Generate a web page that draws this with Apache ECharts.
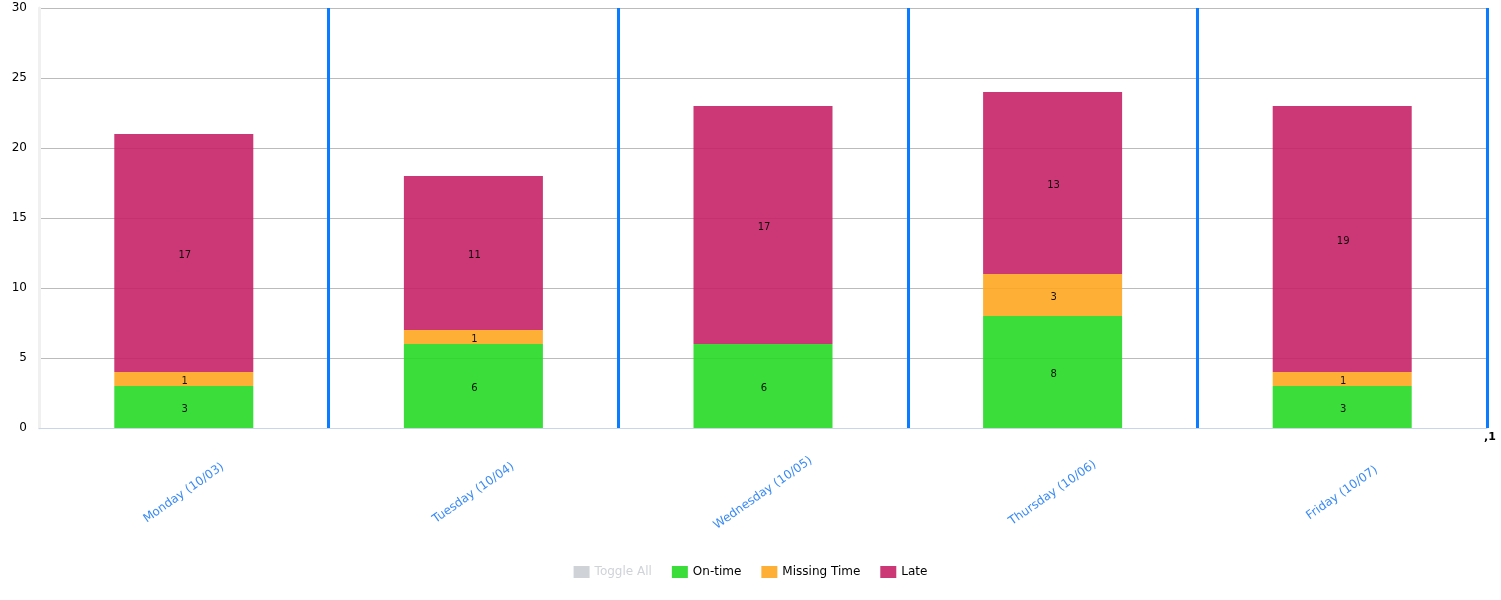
<!DOCTYPE html>
<html>
<head>
<meta charset="utf-8">
<script src="https://cdn.jsdelivr.net/npm/echarts@6/dist/echarts.min.js"></script>
<style>
  html, body { margin: 0; padding: 0; background: #fff; }
  #chart { width: 1501px; height: 600px; }
</style>
</head>
<body>
<div id="chart"></div>
<script>
var days = ['Monday (10/03)', 'Tuesday (10/04)', 'Wednesday (10/05)', 'Thursday (10/06)', 'Friday (10/07)'];
var onTime = [3, 6, 6, 8, 3];
var missingTime = [1, 1, 0, 3, 1];
var late = [17, 11, 17, 13, 19];
var yTicks = { min: 0, max: 30, step: 5 };

function stackSeries(name, data, color) {
    return {
        name: name,
        type: 'bar',
        stack: 'total',
        barWidth: '48%',
        data: data,
        itemStyle: { color: color, opacity: 0.9 },
        label: {
            show: true,
            position: 'inside',
            offset: [1, 2],
            color: '#000',
            fontSize: 10,
            fontFamily: 'DejaVu Sans',
            formatter: function (p) { return p.value ? p.value : ''; }
        }
    };
}

var chart = echarts.init(document.getElementById('chart'));
chart.setOption({
    animation: false,
    textStyle: { fontFamily: 'DejaVu Sans' },
    grid: { left: 39, right: 14, top: 8, bottom: 172 },
    legend: {
        bottom: 17,
        left: 'center',
        itemWidth: 16,
        itemHeight: 12,
        itemGap: 20,
        icon: 'rect',
        textStyle: { color: '#000', fontSize: 12 },
        data: ['Toggle All', 'On-time', 'Missing Time', 'Late'],
        selected: { 'Toggle All': false }
    },
    xAxis: {
        type: 'category',
        data: days,
        axisLine: { lineStyle: { color: '#c8d6e8' } },
        axisTick: { show: false },
        axisLabel: {
            rotate: 35,
            color: '#3b8bf5',
            fontSize: 12,
            align: 'center',
            verticalAlign: 'middle',
            margin: 65
        },
        splitLine: {
            show: true,
            showMinLine: false,
            lineStyle: { color: '#0a7cff', width: 3 }
        }
    },
    yAxis: {
        type: 'value',
        min: yTicks.min,
        max: yTicks.max,
        interval: yTicks.step,
        axisLine: { show: true, lineStyle: { color: '#f0f0f0', width: 3 } },
        axisTick: { show: false },
        axisLabel: { color: '#000', fontSize: 12, margin: 12 },
        splitLine: { lineStyle: { color: '#bbbbbb' } }
    },
    graphic: [{
        type: 'text',
        left: 1484,
        top: 432,
        style: { text: ',1', fill: '#000', font: 'bold 11px DejaVu Sans' }
    }],
    series: [
        { name: 'Toggle All', type: 'bar', stack: 'total', data: [], itemStyle: { color: '#ccc' } },
        stackSeries('On-time', onTime, 'rgb(37,217,37)'),
        stackSeries('Missing Time', missingTime, 'rgb(253,167,31)'),
        stackSeries('Late', late, 'rgb(199,34,102)')
    ]
});
</script>
</body>
</html>
